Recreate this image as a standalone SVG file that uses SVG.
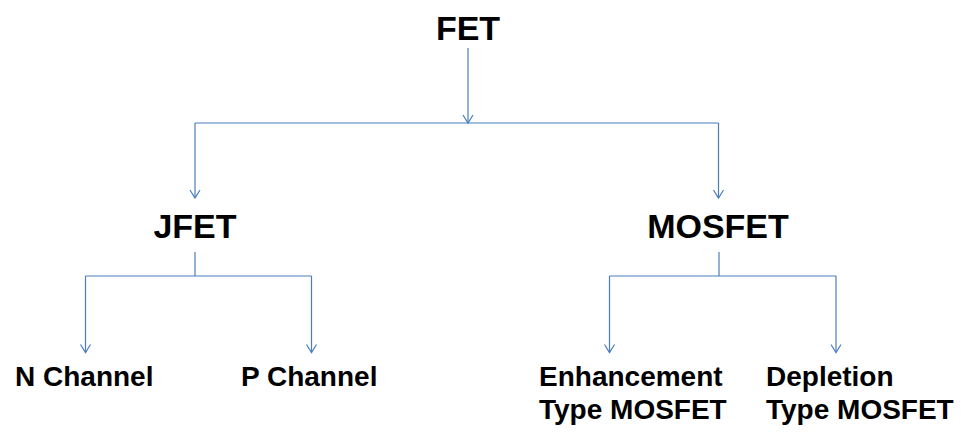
<svg xmlns="http://www.w3.org/2000/svg" width="961" height="443" viewBox="0 0 961 443">
  <style>
    .t { font-family: "Liberation Sans", Arial, sans-serif; font-weight: bold; fill: #000; }
    .big { font-size: 34px; }
    .small { font-size: 28px; }
    .c { fill: none; stroke: #4a7ebb; stroke-width: 1.2; }
  </style>
  <defs>
    <marker id="arr" markerUnits="userSpaceOnUse" markerWidth="12" markerHeight="14" refX="10" refY="7" orient="auto" overflow="visible">
      <path d="M2,2 L10,7 L2,12" fill="none" stroke="#4a7ebb" stroke-width="1.2"/>
    </marker>
  </defs>
  <rect width="961" height="443" fill="#fff"/>

  <g id="connectors">
    <line class="c" x1="468" y1="48" x2="468" y2="123" marker-end="url(#arr)"/>
    <line class="c" x1="195" y1="123" x2="718.5" y2="123"/>
    <line class="c" x1="195" y1="123" x2="195" y2="198" marker-end="url(#arr)"/>
    <line class="c" x1="718.5" y1="123" x2="718.5" y2="198" marker-end="url(#arr)"/>

    <line class="c" x1="195" y1="252" x2="195" y2="276"/>
    <line class="c" x1="85.5" y1="276" x2="311.5" y2="276"/>
    <line class="c" x1="85.5" y1="276" x2="85.5" y2="352.5" marker-end="url(#arr)"/>
    <line class="c" x1="311.5" y1="276" x2="311.5" y2="352.5" marker-end="url(#arr)"/>

    <line class="c" x1="719" y1="252" x2="719" y2="276"/>
    <line class="c" x1="609.5" y1="276" x2="836" y2="276"/>
    <line class="c" x1="609.5" y1="276" x2="609.5" y2="352.5" marker-end="url(#arr)"/>
    <line class="c" x1="836" y1="276" x2="836" y2="352.5" marker-end="url(#arr)"/>
  </g>

  <g id="fet"><text class="t big" x="468" y="40" text-anchor="middle">FET</text></g>
  <g id="jfet"><text class="t big" x="195" y="237.5" text-anchor="middle">JFET</text></g>
  <g id="mosfet"><text class="t big" x="718" y="237.5" text-anchor="middle">MOSFET</text></g>
  <g id="n-channel"><text class="t small" x="15" y="386">N Channel</text></g>
  <g id="p-channel"><text class="t small" x="241" y="386">P Channel</text></g>
  <g id="enhancement">
    <text class="t small" x="539" y="385.5">Enhancement</text>
    <text class="t small" x="539" y="419">Type MOSFET</text>
  </g>
  <g id="depletion">
    <text class="t small" x="766" y="385.5">Depletion</text>
    <text class="t small" x="766" y="419">Type MOSFET</text>
  </g>
</svg>
